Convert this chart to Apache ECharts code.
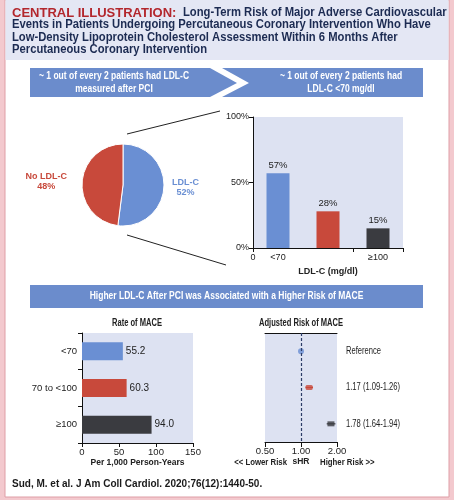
<!DOCTYPE html>
<html><head><meta charset="utf-8">
<script src="https://cdn.jsdelivr.net/npm/echarts@6/dist/echarts.min.js"></script>
<style>html,body{margin:0;padding:0;background:#fff}#c{width:454px;height:500px}</style>
</head><body><div id="c"></div>
<script>
// ---- data ----
const pieNames = ['LDL-C', 'No LDL-C'];
const pieValues = [52, 48];
const ldlCats = ['<70', '70 to <100', '\u2265100'];
const ldlShare = [57, 28, 15];
const maceRate = [55.2, 60.3, 94.0];
const shr = [1.00, 1.17, 1.78];
const shrLow = [null, 1.09, 1.64];
const shrHigh = [null, 1.26, 1.94];
const shrText = ['Reference', '1.17 (1.09-1.26)', '1.78 (1.64-1.94)'];
const pctTicks = [0, 50, 100];
const rateTicks = [0, 50, 100, 150];
const riskTicks = [0.5, 1, 2];

// ---- styles ----
const FONT = "'Liberation Sans',Arial,sans-serif";
const COLORS = ['#6a8fd3', '#c8493b', '#3a3b40'];
const BANNER = '#6b8ccc';
const PLOTBG = '#dde2f2';
const NAVY = '#1c2b52';
const TXT = '#222';

const chart = echarts.init(document.getElementById('c'), null, {renderer: 'canvas'});

const axisLine = {show: true, lineStyle: {color: '#111', width: 1}};
const tickStyle = {show: true, length: 4, lineStyle: {color: '#111'}};
const lbl = {fontFamily: FONT, fontSize: 9, color: TXT};

function t(x, y, text, extra, sx) {
  return {type: 'text', x: x, y: y, z: 10, scaleX: sx || 1,
    style: Object.assign({text: text, fontFamily: FONT, fontSize: 10, fill: TXT,
      align: 'left', verticalAlign: 'middle'}, extra || {})};
}
const titleStyle = {fontWeight: 'bold', fontSize: 12.5, fill: NAVY};

const option = {
  animation: false,
  graphic: [
    {type: 'rect', z: -10, shape: {x: 0, y: 0, width: 454, height: 500}, style: {fill: '#f3c9ce'}},
    {type: 'rect', z: -9, shape: {x: 5, y: 0, width: 444, height: 497}, style: {fill: '#ffffff', stroke: '#df9ea6', lineWidth: 1}},
    {type: 'rect', z: -8, shape: {x: 5.5, y: 0, width: 443, height: 60}, style: {fill: '#e4e7f4'}},
    t(12, 13, 'CENTRAL ILLUSTRATION:', {fontWeight: 'bold', fontSize: 13, fill: '#b3272d'}),
    t(183, 13, 'Long-Term Risk of Major Adverse Cardiovascular', titleStyle, 0.9),
    t(12, 25, 'Events in Patients Undergoing Percutaneous Coronary Intervention Who Have', titleStyle, 0.9),
    t(12, 37.5, 'Low-Density Lipoprotein Cholesterol Assessment Within 6 Months After', titleStyle, 0.9),
    t(12, 50, 'Percutaneous Coronary Intervention', titleStyle, 0.9),
    // banners
    {type: 'polygon', z: -5, shape: {points: [[30, 68], [210, 68], [237, 83], [210, 97], [30, 97]]}, style: {fill: BANNER}},
    {type: 'polygon', z: -5, shape: {points: [[222, 68], [423, 68], [423, 97], [222, 97], [249, 83]]}, style: {fill: BANNER}},
    t(114, 82.5, '~ 1 out of every 2 patients had LDL-C\nmeasured after PCI', {fontWeight: 'bold', fill: '#fff', align: 'center', lineHeight: 12.5, fontSize: 10.5}, 0.81),
    t(341, 82.5, '~ 1 out of every 2 patients had\nLDL-C <70 mg/dl', {fontWeight: 'bold', fill: '#fff', align: 'center', lineHeight: 12.5, fontSize: 10.5}, 0.81),
    {type: 'rect', z: -5, shape: {x: 30, y: 285, width: 393, height: 23}, style: {fill: BANNER}},
    t(226.5, 296.5, 'Higher LDL-C After PCI was Associated with a Higher Risk of MACE', {fontWeight: 'bold', fill: '#fff', align: 'center', fontSize: 10.5}, 0.81),
    // connector lines
    {type: 'line', z: 5, shape: {x1: 127, y1: 134, x2: 220, y2: 111}, style: {stroke: '#222', lineWidth: 1}},
    {type: 'line', z: 5, shape: {x1: 127, y1: 235, x2: 226, y2: 265}, style: {stroke: '#222', lineWidth: 1}},
    // axis origin label
    t(253, 258, '0', {align: 'center', fontSize: 9}),
    // panel titles
    t(137, 323, 'Rate of MACE', {fontWeight: 'bold', align: 'center', fontSize: 10.5}, 0.72),
    t(301, 323, 'Adjusted Risk of MACE', {fontWeight: 'bold', align: 'center', fontSize: 10.5}, 0.72),
    t(287, 462, '<< Lower Risk', {fontWeight: 'bold', align: 'right', fontSize: 9.5}, 0.82),
    t(320, 462, 'Higher Risk >>', {fontWeight: 'bold', align: 'left', fontSize: 9.5}, 0.82),
    // footnote
    t(12, 484, 'Sud, M. et al. J Am Coll Cardiol. 2020;76(12):1440-50.', {fontSize: 11.5, fontWeight: 'bold', fill: '#1a1a1a'}, 0.87)
  ],
  grid: [
    {left: 253, top: 117, width: 150, height: 131, show: true, backgroundColor: PLOTBG, borderWidth: 0},
    {left: 82, top: 333, width: 111, height: 110, show: true, backgroundColor: PLOTBG, borderWidth: 0},
    {left: 265, top: 333, width: 72, height: 109, show: true, backgroundColor: PLOTBG, borderWidth: 0}
  ],
  xAxis: [
    {gridIndex: 0, type: 'category', data: ldlCats, axisLine: axisLine,
     axisTick: tickStyle, axisLabel: Object.assign({margin: 5}, lbl),
     name: 'LDL-C (mg/dl)', nameLocation: 'middle', nameGap: 19,
     nameTextStyle: {fontFamily: FONT, fontWeight: 'bold', fontSize: 9, color: TXT}},
    {gridIndex: 1, type: 'value', min: rateTicks[0], max: rateTicks[rateTicks.length - 1], interval: 50,
     axisLine: axisLine, axisTick: tickStyle, splitLine: {show: false},
     axisLabel: Object.assign({margin: 4}, lbl, {fontSize: 9.5}),
     name: 'Per 1,000 Person-Years', nameLocation: 'middle', nameGap: 14,
     nameTextStyle: {fontFamily: FONT, fontWeight: 'bold', fontSize: 8.5, color: TXT}},
    {gridIndex: 2, type: 'log', logBase: 2, min: riskTicks[0], max: riskTicks[riskTicks.length - 1],
     axisLine: axisLine, axisTick: {show: true, length: 5, lineStyle: {color: '#111'}}, splitLine: {show: false},
     axisLabel: Object.assign({margin: 4, formatter: v => Number(v).toFixed(2)}, lbl, {fontSize: 9.5}),
     name: 'sHR', nameLocation: 'middle', nameGap: 15,
     nameTextStyle: {fontFamily: FONT, fontWeight: 'bold', fontSize: 8.5, color: TXT}},
    {gridIndex: 2, type: 'log', logBase: 2, min: riskTicks[0], max: riskTicks[riskTicks.length - 1], position: 'top',
     axisLine: axisLine, axisTick: {show: false}, axisLabel: {show: false}, splitLine: {show: false}}
  ],
  yAxis: [
    {gridIndex: 0, type: 'value', min: pctTicks[0], max: pctTicks[pctTicks.length - 1], interval: 50,
     axisLine: axisLine, axisTick: tickStyle, splitLine: {show: false},
     axisLabel: Object.assign({margin: 4, formatter: '{value}%'}, lbl)},
    {gridIndex: 1, type: 'category', data: ldlCats, inverse: true,
     axisLine: axisLine, axisTick: tickStyle, axisLabel: Object.assign({margin: 5}, lbl, {fontSize: 9.5})},
    {gridIndex: 2, type: 'category', data: ldlCats, inverse: true, show: false}
  ],
  series: [
    {type: 'pie', center: [123, 185], radius: 41, startAngle: 90, clockwise: true,
     itemStyle: {borderColor: '#fff', borderWidth: 1},
     label: {show: true, position: 'outside', formatter: '{t|{b}}\n{t|{c}%}',
       rich: {t: {align: 'center', fontFamily: FONT, fontWeight: 'bold', fontSize: 9, lineHeight: 10}}},
     labelLine: {show: false, length: 3, length2: 0},
     data: pieNames.map((n, i) => ({
       name: n, value: pieValues[i],
       itemStyle: {color: COLORS[i]},
       label: {color: COLORS[i], rich: {t: {color: COLORS[i]}}},
       labelLine: {length: i === 0 ? 3 : 10, length2: 0}
     }))},
    {type: 'bar', xAxisIndex: 0, yAxisIndex: 0, barWidth: 23,
     data: ldlShare.map((v, i) => ({value: v, itemStyle: {color: COLORS[i]}})),
     label: {show: true, position: 'top', distance: 3, formatter: '{c}%', fontFamily: FONT, fontSize: 9.5, color: TXT}},
    {type: 'bar', xAxisIndex: 1, yAxisIndex: 1, barWidth: 18,
     data: maceRate.map((v, i) => ({value: v, itemStyle: {color: COLORS[i]}})),
     label: {show: true, position: 'right', distance: 3, formatter: p => p.value.toFixed(1), fontFamily: FONT, fontSize: 10, color: TXT}},
    {type: 'custom', xAxisIndex: 2, yAxisIndex: 2, clip: false, z: 3,
     encode: {x: [0, 1], y: 2},
     data: shr.map((v, i) => [shrLow[i] == null ? v : shrLow[i], shrHigh[i] == null ? v : shrHigh[i], i]),
     renderItem: function (params, api) {
       const i = api.value(2);
       const a = api.coord([api.value(0), i]);
       const b = api.coord([api.value(1), i]);
       const cs = params.coordSys;
       const children = [];
       if (b[0] - a[0] > 0.5) {
         children.push({type: 'line', shape: {x1: a[0], y1: a[1], x2: b[0], y2: b[1]},
           style: {stroke: COLORS[i], lineWidth: 1.2}});
       }
       children.push({type: 'text', x: cs.x + cs.width + 9, y: a[1], scaleX: 0.76,
         style: {text: shrText[i], fontFamily: FONT, fontSize: 10, fill: TXT, verticalAlign: 'middle', align: 'left'}});
       return {type: 'group', children: children};
     }},
    {type: 'scatter', xAxisIndex: 2, yAxisIndex: 2, z: 4,
     data: shr.map((v, i) => ({value: [v, i], symbol: ['circle', 'roundRect', 'rect'][i],
       symbolSize: i === 0 ? 6 : [7, 5], itemStyle: {color: COLORS[i]}})),
     markLine: {silent: true, symbol: 'none', label: {show: false},
       lineStyle: {type: [3, 2], color: '#2b3b66', width: 1.2},
       data: [{xAxis: 1}]}}
  ]
};
chart.setOption(option);
</script></body></html>
